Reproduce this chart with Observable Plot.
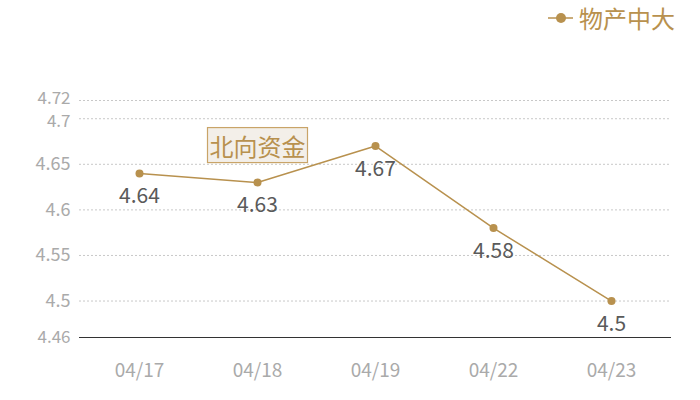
<!DOCTYPE html>
<html><head><meta charset="utf-8">
<script src="https://cdn.jsdelivr.net/npm/d3@7"></script>
<script src="https://cdn.jsdelivr.net/npm/@observablehq/plot@0.6"></script>
<style>
body{margin:0;background:#fff;font-family:"Noto Sans CJK SC","Noto Sans",sans-serif;}
#wrap{position:relative;width:700px;height:400px;}
#legend{position:absolute;top:3px;left:546px;display:flex;align-items:center;color:#b8914e;font-size:24px;line-height:30px;}
</style></head>
<body><div id="wrap"><div id="legend"><svg width="30" height="14"><line x1="2" x2="27" y1="7" y2="7" stroke="#b8914e" stroke-width="1.5"/><circle cx="15" cy="7" r="5" fill="#b8914e"/></svg><span style="margin-left:3px">物产中大</span></div></div>
<script>
const dates = ["04/17","04/18","04/19","04/22","04/23"];
const values = [4.64, 4.63, 4.67, 4.58, 4.5];
const yTicks = [4.46, 4.5, 4.55, 4.6, 4.65, 4.7, 4.72];
const seriesName = "物产中大";
const annotation = [{date:"04/18", value:4.668, label:"北向资金"}];
const data = dates.map((d,i)=>({date:d, value:values[i]}));
const color = "#b8914e";
const fmt = d=>String(d);

const chart = Plot.plot({
  width:700, height:400,
  marginLeft:79, marginRight:29, marginTop:100, marginBottom:63,
  style:{fontFamily:'"Noto Sans CJK SC","Noto Sans",sans-serif', background:"transparent"},
  x:{type:"point", domain:dates, padding:0.5, label:null},
  y:{domain:[4.46,4.72], label:null},
  marks:[
    Plot.ruleY(yTicks.filter(t=>t!==4.46), {stroke:"#c8c8c8", strokeDasharray:"2,2", strokeWidth:1}),
    Plot.ruleY([4.46], {stroke:"#333", strokeWidth:1}),
    Plot.axisY({ticks:yTicks.filter(t=>t!==4.46 && t!==4.7 && t!==4.72), tickSize:0, tickPadding:9, fontSize:18, fill:"#aaa", tickFormat:fmt, label:null}),
    Plot.axisY({ticks:[4.72], tickSize:0, tickPadding:9, fontSize:17, fill:"#aaa", tickFormat:fmt, label:null, dy:-2}),
    Plot.axisY({ticks:[4.7], tickSize:0, tickPadding:9, fontSize:17, fill:"#aaa", tickFormat:fmt, label:null, dy:3}),
    Plot.axisY({ticks:[4.46], tickSize:0, tickPadding:9, fontSize:17, fill:"#aaa", tickFormat:fmt, label:null}),
    Plot.axisX({tickSize:0, tickPadding:26, fontSize:19, fill:"#aaa", label:null}),
    Plot.line(data, {x:"date", y:"value", stroke:color, strokeWidth:1.5}),
    Plot.dot(data, {x:"date", y:"value", fill:color, r:4}),
    Plot.text(data, {x:"date", y:"value", text:d=>String(d.value), dy:23, fill:"#5a5a5a", fontSize:21}),
    Plot.text(annotation, {x:"date", y:"value", text:"label", fill:"#b8914e", fontSize:24, className:"anno"})
  ]
});
document.getElementById("wrap").prepend(chart);
chart.style.position="absolute"; chart.style.left="0"; chart.style.top="0";
document.getElementById("legend").style.zIndex="2";
chart.querySelectorAll(".anno text").forEach(t=>{
  const b=t.getBBox();
  const r=document.createElementNS("http://www.w3.org/2000/svg","rect");
  r.setAttribute("x",b.x-2);r.setAttribute("y",b.y);
  r.setAttribute("width",b.width+4);r.setAttribute("height",b.height);
  r.setAttribute("fill","#f3efe9");r.setAttribute("stroke","#c9a468");r.setAttribute("stroke-width","1.2");
  r.setAttribute("transform", t.getAttribute("transform")||"");
  t.parentNode.insertBefore(r,t);
});
</script></body></html>
